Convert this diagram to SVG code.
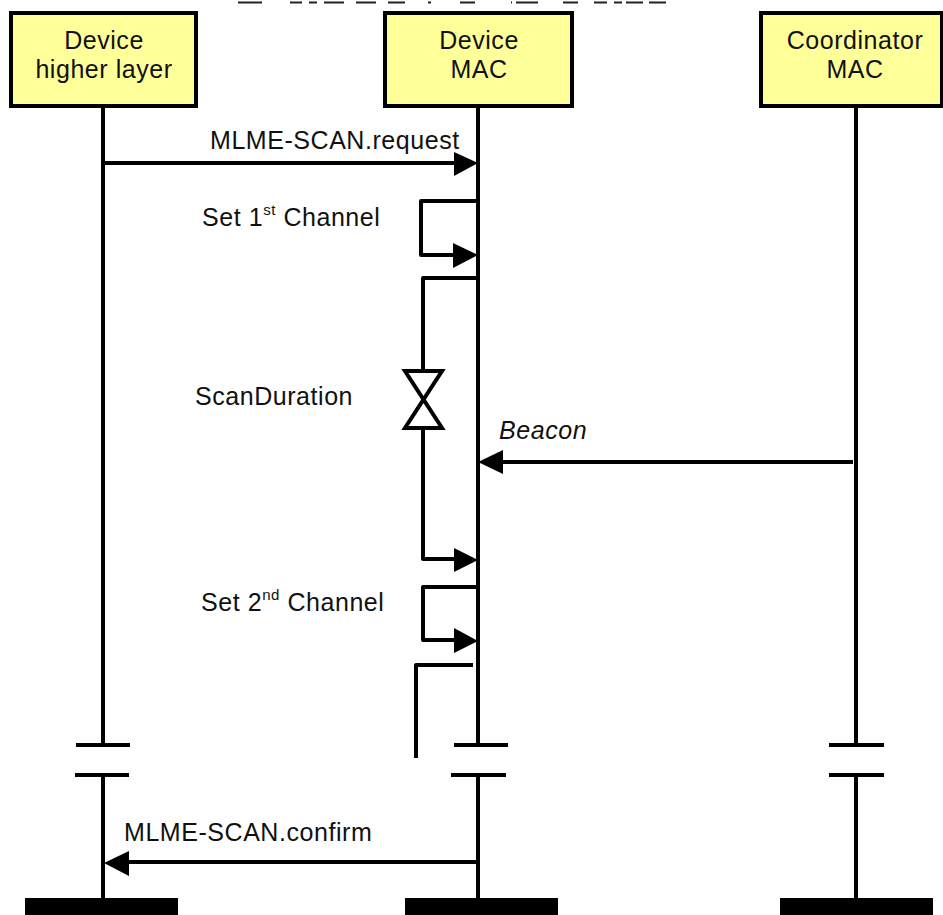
<svg xmlns="http://www.w3.org/2000/svg" width="943" height="915" viewBox="0 0 943 915">
<style>
.box{fill:#ffff99;stroke:#000;stroke-width:4}
.t{font-family:"Liberation Sans",Arial,sans-serif;font-size:25px;letter-spacing:.55px;fill:#111;text-anchor:middle}
.l{font-family:"Liberation Sans",Arial,sans-serif;font-size:25px;letter-spacing:.55px;fill:#111}
.s{font-size:15px}
.ln{fill:none;stroke:#000;stroke-width:4;stroke-linejoin:round}
.bar{fill:#000}
.head{fill:#000}
.mark{fill:none;stroke:#222;stroke-width:2}
</style>
<rect width="943" height="915" fill="#fff"/>
<path id="cropped-top-edge" class="mark" d="M238 2.500H262M290 2.500H302M309 2.500H317M324 2.500H344M356 2.500H376M388 2.500H405M428 2.500H431M460 2.500H475M511 2.500H512M516 2.500H538M563 2.500H578M594 2.500H607M614 2.500H622M626 2.500H643M649 2.500H666"/>
<g id="connectors">
<path class="ln" d="M103 107V744M103 775V898M478 107V744M478 775V898M856 107V744M856 775V898"/>
<path class="ln" d="M76 745H130M75 775H129M454 745H508M451 775H506M829 745H884M829 775H884"/>
<path class="ln" d="M103 163H456"/>
<path class="head" d="M454 152L478 163L454 176Z"/>
<path class="ln" d="M478 201H421V255H456"/>
<path class="head" d="M453 243L478 255L453 268Z"/>
<path class="ln" d="M478 278H423V371M423 429V559H456"/>
<path class="head" d="M454 548L478 560L454 572Z"/>
<path d="M405 371H442L405 428H442Z" fill="#fff" stroke="#000" stroke-width="4"/>
<path class="ln" d="M853 462H500"/>
<path class="head" d="M478 462L503 450V474Z"/>
<path class="ln" d="M478 587H423V640H456"/>
<path class="head" d="M454 628L478 641L454 653Z"/>
<path class="ln" d="M473 665H416V758"/>
<path class="ln" d="M478 862H128"/>
<path class="head" d="M104 863L129 851V876Z"/>
</g>
<g id="device-higher-layer"><rect class="box" x="11" y="13" width="185" height="93"/><text class="t" x="104" y="49">Device</text><text class="t" x="104" y="78">higher layer</text></g>
<g id="device-mac"><rect class="box" x="385" y="13" width="187" height="93"/><text class="t" x="479" y="49">Device</text><text class="t" x="479" y="78">MAC</text></g>
<g id="coordinator-mac"><rect class="box" x="761" y="13" width="181" height="93"/><text class="t" x="855" y="49">Coordinator</text><text class="t" x="855" y="78">MAC</text></g>
<g id="labels">
<text class="l" x="210" y="149">MLME-SCAN.request</text>
<text class="l" x="202" y="226">Set 1<tspan class="s" dy="-11">st</tspan><tspan dy="11"> Channel</tspan></text>
<text class="l" x="195" y="405">ScanDuration</text>
<text class="l" x="499" y="439" font-style="italic">Beacon</text>
<text class="l" x="201" y="611">Set 2<tspan class="s" dy="-11">nd</tspan><tspan dy="11"> Channel</tspan></text>
<text class="l" x="124" y="841">MLME-SCAN.confirm</text>
</g>
<g id="end-bars"><rect class="bar" x="25" y="898" width="153" height="17"/><rect class="bar" x="405" y="898" width="153" height="17"/><rect class="bar" x="780" y="898" width="153" height="17"/></g>
</svg>
